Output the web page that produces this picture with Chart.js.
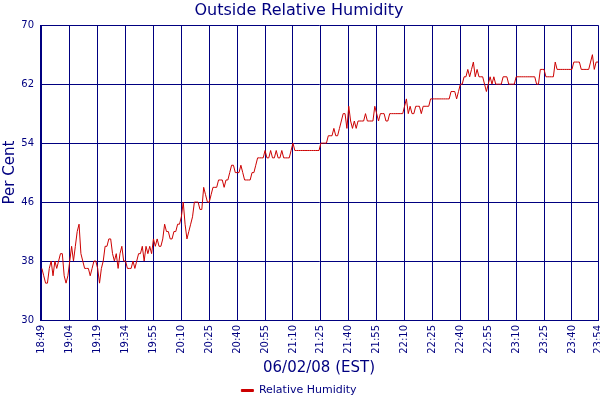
<!DOCTYPE html>
<html>
<head>
<meta charset="utf-8">
<script src="https://cdn.jsdelivr.net/npm/chart.js@4/dist/chart.umd.min.js"></script>
<style>
  html, body { margin: 0; padding: 0; background: #fff; }
  #wrap { width: 600px; height: 400px; }
</style>
</head>
<body>
<div id="wrap"><canvas id="chart" width="600" height="400"></canvas></div>
<script>
// time labels shown under the axis, one every 15 readings (last one 14)
const timeLabels = [
  "18:49", "19:04", "19:19", "19:34", "19:55", "20:10", "20:25",
  "20:40", "20:55", "21:10", "21:25", "21:40", "21:55", "22:10",
  "22:25", "22:40", "22:55", "23:10", "23:25", "23:40", "23:54",
];
const labelIndex = [
  0, 15, 30, 45, 60, 75, 90, 105, 120, 135, 150,
  165, 180, 195, 210, 225, 240, 255, 270, 285, 299,
];

// one reading per index
const humidity = [
  37, 36, 35, 35, 37, 38, 36, 38, 37, 38,
  39, 39, 36, 35, 36, 38, 40, 38, 40, 42,
  43, 39, 38, 37, 37, 37, 36, 37, 38, 38,
  37, 35, 37, 38, 40, 40, 41, 41, 39, 38,
  39, 37, 39, 40, 38, 38, 37, 37, 37, 38,
  37, 38, 39, 39, 40, 38, 40, 39, 40, 39,
  41, 40, 41, 40, 40, 41, 43, 42, 42, 41,
  41, 42, 42, 43, 43, 44, 46, 43, 41, 42,
  43, 44, 46, 46, 46, 45, 45, 48, 47, 46,
  46, 47, 48, 48, 48, 49, 49, 49, 48, 49,
  49, 50, 51, 51, 50, 50, 50, 51, 50, 49,
  49, 49, 49, 50, 50, 51, 52, 52, 52, 52,
  53, 52, 52, 53, 52, 52, 53, 52, 52, 53,
  52, 52, 52, 52, 53, 54, 53, 53, 53, 53,
  53, 53, 53, 53, 53, 53, 53, 53, 53, 53,
  54, 54, 54, 54, 55, 55, 55, 56, 55, 55,
  56, 57, 58, 58, 56, 59, 57, 56, 57, 56,
  57, 57, 57, 57, 58, 57, 57, 57, 57, 59,
  58, 57, 58, 58, 58, 57, 57, 58, 58, 58,
  58, 58, 58, 58, 58, 59, 60, 58, 59, 58,
  58, 59, 59, 59, 58, 59, 59, 59, 59, 60,
  60, 60, 60, 60, 60, 60, 60, 60, 60, 60,
  61, 61, 61, 60, 61, 62, 62, 63, 63, 64,
  63, 64, 65, 63, 64, 63, 63, 63, 62, 61,
  62, 63, 62, 63, 62, 62, 62, 62, 63, 63,
  63, 62, 62, 62, 62, 63, 63, 63, 63, 63,
  63, 63, 63, 63, 63, 63, 62, 62, 64, 64,
  64, 63, 63, 63, 63, 63, 65, 64, 64, 64,
  64, 64, 64, 64, 64, 64, 65, 65, 65, 65,
  64, 64, 64, 64, 64, 65, 66, 64, 65, 65,
];

const yTicks = [30, 38, 46, 54, 62, 70];

const NAVY = "#000080";
const LINE_RED = "#cc0000";

Chart.defaults.font.family = "'DejaVu Sans', Verdana, sans-serif";
Chart.defaults.color = NAVY;

const points = humidity.map((v, i) => ({ x: i, y: v }));

new Chart(document.getElementById("chart"), {
  type: "line",
  data: {
    datasets: [
      {
        label: "Relative Humidity",
        data: points,
        borderColor: LINE_RED,
        backgroundColor: LINE_RED,
        borderWidth: 1,
        pointRadius: 0,
        tension: 0,
      },
    ],
  },
  options: {
    responsive: false,
    animation: false,
    devicePixelRatio: 1,
    layout: { padding: { left: 0, right: 2, top: 0, bottom: -6 } },
    plugins: {
      title: {
        display: true,
        text: "Outside Relative Humidity",
        color: NAVY,
        font: { size: 16, weight: "normal" },
        padding: { top: 1, bottom: 5 },
      },
      legend: {
        position: "bottom",
        labels: {
          color: NAVY,
          boxWidth: 12,
          boxHeight: 2,
          padding: 4,
          font: { size: 11 },
        },
      },
      tooltip: { enabled: false },
    },
    scales: {
      x: {
        type: "linear",
        min: -1,
        max: 299,
        afterBuildTicks: (s) => {
          s.ticks = labelIndex.map((v) => ({ value: v }));
        },
        afterFit: (s) => {
          s.height = 61;
          s.paddingLeft = 0;
          s.paddingRight = 0;
        },
        ticks: {
          autoSkip: false,
          minRotation: 90,
          maxRotation: 90,
          padding: 5,
          font: { size: 10 },
          callback: (v, i) => timeLabels[i],
        },
        grid: { color: NAVY, lineWidth: 1, drawTicks: false },
        border: { color: NAVY, width: 1 },
        title: {
          display: true,
          text: "06/02/08 (EST)",
          color: NAVY,
          font: { size: 15 },
          padding: { top: 0, bottom: 4 },
        },
      },
      y: {
        min: 30,
        max: 70,
        afterBuildTicks: (s) => {
          s.ticks = yTicks.map((v) => ({ value: v }));
        },
        afterFit: (s) => {
          s.width = 40;
        },
        ticks: { padding: 6, font: { size: 10 } },
        grid: { color: NAVY, lineWidth: 1, drawTicks: false },
        border: { color: NAVY, width: 1 },
        title: {
          display: true,
          text: "Per Cent",
          color: NAVY,
          font: { size: 15 },
          padding: { top: 1, bottom: 0 },
        },
      },
    },
  },
});
</script>
</body>
</html>
